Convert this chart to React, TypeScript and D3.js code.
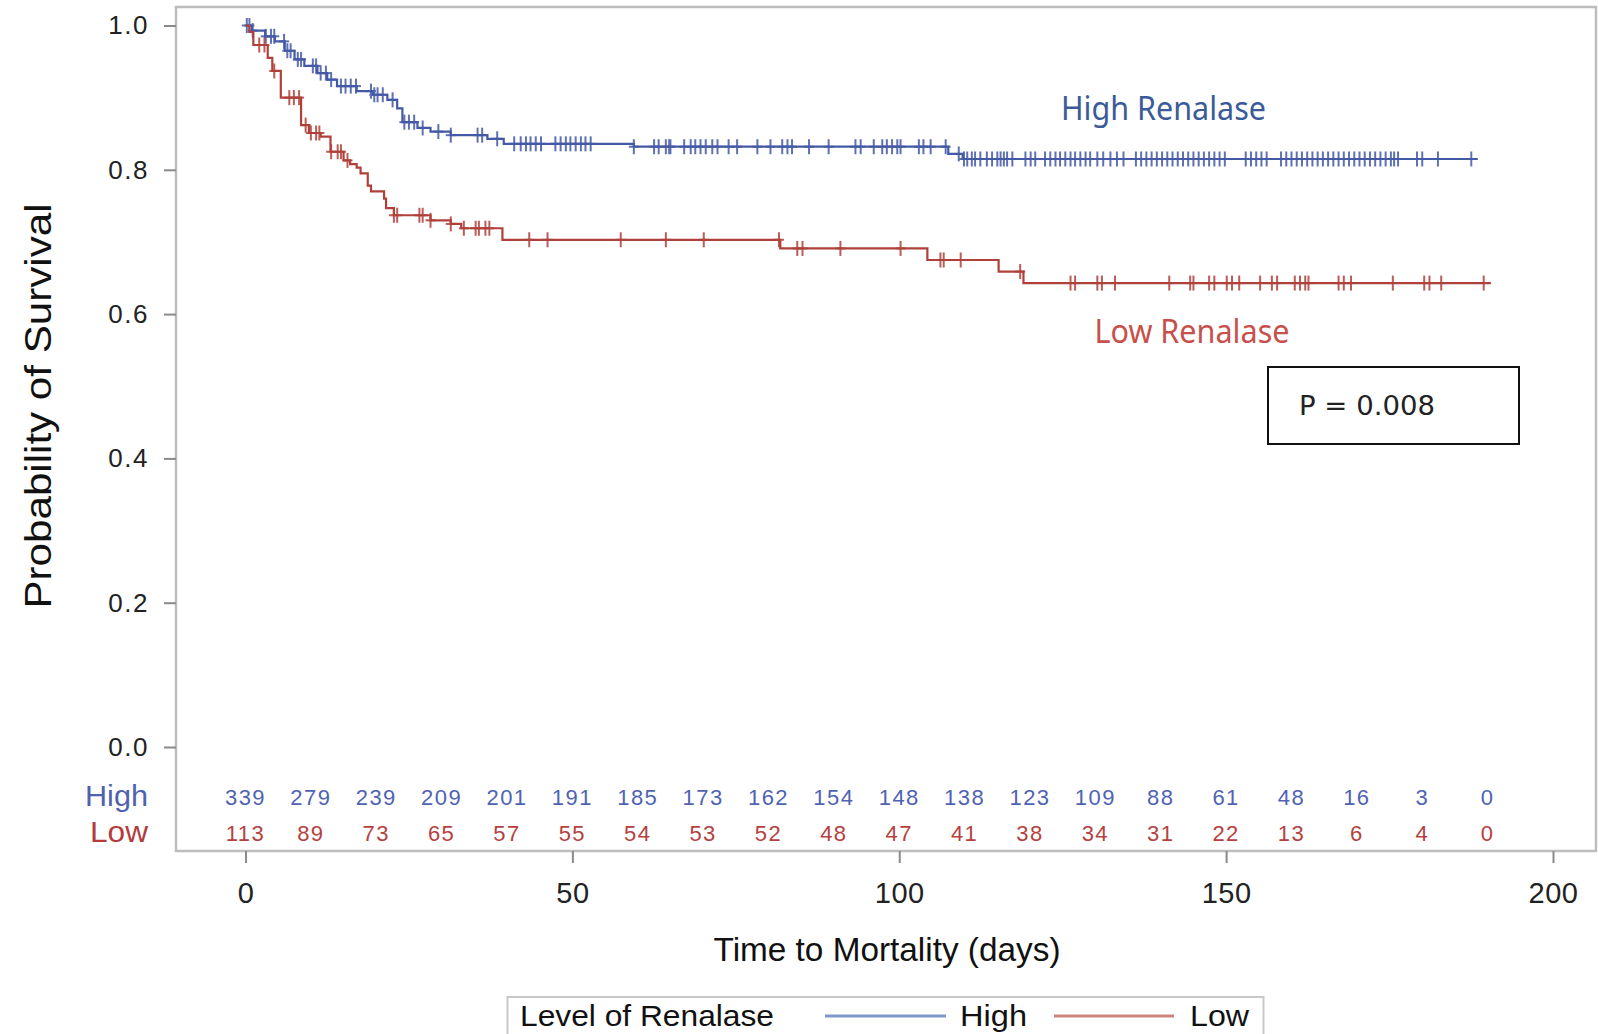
import React, { useEffect, useRef } from 'react';
import * as d3 from 'd3';

// Kaplan-Meier step points (time in days, survival after the drop)
const highTimes = [0, 1, 3, 4.5, 6, 7.5, 9, 11, 12.5, 14, 17, 19.5, 21.7, 23.2, 24, 26.3, 28.3, 31.4, 37, 39.5, 59.4, 107.5, 109.7];
const highSurv = [1.0, 0.993, 0.985, 0.978, 0.965, 0.953, 0.944, 0.934, 0.925, 0.916, 0.909, 0.904, 0.897, 0.885, 0.866, 0.858, 0.853, 0.848, 0.843, 0.836, 0.832, 0.822, 0.815];
const highEnd = 188.5;

const lowTimes = [0, 0.6, 1.2, 3.4, 4.1, 5.4, 8.5, 9.7, 11.5, 13, 15, 16, 17, 17.6, 18.7, 19.2, 21.2, 21.5, 22.7, 28.3, 31.4, 33, 39.3, 81.8, 104.3, 115.2, 119];
const lowSurv = [1.0, 0.991, 0.973, 0.955, 0.937, 0.9, 0.862, 0.851, 0.846, 0.825, 0.813, 0.808, 0.803, 0.795, 0.778, 0.77, 0.76, 0.747, 0.737, 0.73, 0.725, 0.719, 0.703, 0.691, 0.675, 0.659, 0.643];
const lowEnd = 190.5;

// censored observations
const highCensor = [0.2, 0.6, 1.1, 3.1, 3.9, 4.4, 5.9, 6.4, 6.9, 8.0, 8.5, 10.3, 10.8, 11.5, 12.3, 13.1, 14.6, 15.3, 16.1, 16.9, 19.2, 19.7, 20.2, 21.0, 22.5, 24.3, 25.0, 25.8, 27.1, 29.5, 31.4, 35.5, 36.2, 38.5, 41.1, 42.1, 42.9, 43.6, 44.4, 45.2, 47.4, 48.2, 49.0, 49.7, 50.5, 51.3, 52.0, 52.8, 59.4, 62.5, 63.2, 64.3, 64.8, 65.0, 67.1, 68.1, 68.8, 69.6, 70.4, 71.4, 72.2, 73.9, 75.2, 78.3, 80.3, 82.1, 82.9, 83.6, 86.2, 89.2, 93.3, 94.1, 96.1, 97.4, 98.1, 98.9, 99.7, 100.2, 103.0, 103.7, 104.8, 107.1, 109.1, 109.9, 110.4, 111.1, 111.6, 112.4, 113.4, 114.2, 115.0, 115.5, 116.0, 116.5, 117.3, 119.3, 120.1, 120.8, 122.3, 123.1, 123.9, 124.6, 125.4, 126.2, 126.9, 127.7, 128.5, 129.2, 130.3, 131.2, 132.3, 133.3, 134.3, 136.2, 137.0, 137.8, 138.6, 139.4, 140.2, 141.0, 141.8, 142.6, 143.4, 144.2, 145.0, 145.8, 146.6, 147.4, 148.2, 149.0, 149.8, 153.0, 153.8, 154.6, 155.4, 156.2, 158.4, 159.2, 160.0, 160.8, 161.6, 162.4, 163.2, 164.0, 164.8, 165.6, 166.4, 167.2, 168.0, 168.8, 169.6, 170.4, 171.2, 172.0, 172.8, 173.6, 174.4, 175.2, 175.7, 176.3, 179.2, 180.0, 182.4, 187.5];
const lowCensor = [2.1, 2.9, 4.4, 6.7, 7.4, 8.2, 9.2, 10.0, 10.8, 11.3, 13.1, 14.1, 14.6, 15.6, 22.7, 23.2, 26.6, 27.1, 28.3, 31.4, 33.4, 35.2, 35.7, 36.7, 37.3, 43.4, 46.2, 57.4, 64.3, 70.1, 81.6, 84.4, 85.2, 91.0, 100.2, 106.3, 106.8, 109.4, 118.5, 126.2, 126.9, 130.3, 131.0, 133.0, 141.3, 144.5, 145.0, 147.4, 148.2, 150.1, 150.9, 152.0, 155.2, 157.0, 157.8, 160.5, 161.3, 162.1, 162.6, 167.2, 168.0, 169.1, 175.5, 180.3, 181.1, 182.9, 189.4];

// number at risk table
const riskTimes = [0, 10, 20, 30, 40, 50, 60, 70, 80, 90, 100, 110, 120, 130, 140, 150, 160, 170, 180, 190];
const riskHigh = [339, 279, 239, 209, 201, 191, 185, 173, 162, 154, 148, 138, 123, 109, 88, 61, 48, 16, 3, 0];
const riskLow = [113, 89, 73, 65, 57, 55, 54, 53, 52, 48, 47, 41, 38, 34, 31, 22, 13, 6, 4, 0];

const xTicks = [0, 50, 100, 150, 200];
const yTicks = [0, 0.2, 0.4, 0.6, 0.8, 1.0];

const W = 1598;
const H = 1034;
const FONT = '"Liberation Sans", Arial, sans-serif';

const App = () => {
  const svgRef = useRef(null);

  useEffect(() => {
    const svg = d3.select(svgRef.current);
    svg.selectAll('*').remove();

    const frame = { left: 176, top: 7, right: 1596, bottom: 851 };
    const x = d3.scaleLinear().domain([0, 200]).range([245.5, 1553]);
    const y = d3.scaleLinear().domain([0, 1]).range([747, 25.5]);

    svg.append('rect')
      .attr('width', W).attr('height', H).attr('fill', '#fff');

    svg.append('rect')
      .attr('x', frame.left).attr('y', frame.top)
      .attr('width', frame.right - frame.left).attr('height', frame.bottom - frame.top)
      .attr('fill', 'none').attr('stroke', '#bdbdbd').attr('stroke-width', 2.5);

    // axes
    const yAxis = svg.append('g')
      .attr('transform', `translate(${frame.left},0)`)
      .call(d3.axisLeft(y).tickValues(yTicks).tickFormat(d3.format('.1f')).tickSize(12).tickPadding(15).tickSizeOuter(0));
    yAxis.select('.domain').remove();
    yAxis.selectAll('line').attr('stroke', '#8a8a8a').attr('stroke-width', 2);
    yAxis.selectAll('text')
      .attr('fill', '#222').style('font-family', FONT).style('font-size', '26px').style('letter-spacing', '1.5px');

    const xAxis = svg.append('g')
      .attr('transform', `translate(0,${frame.bottom})`)
      .call(d3.axisBottom(x).tickValues(xTicks).tickFormat(d3.format('d')).tickSize(12).tickPadding(19).tickSizeOuter(0));
    xAxis.select('.domain').remove();
    xAxis.selectAll('line').attr('stroke', '#8a8a8a').attr('stroke-width', 2);
    xAxis.selectAll('text')
      .attr('fill', '#222').style('font-family', FONT).style('font-size', '29px').style('letter-spacing', '0.5px');

    svg.append('text')
      .attr('transform', 'translate(51,406) rotate(-90)')
      .attr('text-anchor', 'middle')
      .attr('textLength', 405).attr('lengthAdjust', 'spacingAndGlyphs')
      .style('font-family', FONT).style('font-size', '36px').attr('fill', '#111')
      .text('Probability of Survival');

    svg.append('text')
      .attr('x', 887).attr('y', 961)
      .attr('text-anchor', 'middle')
      .attr('textLength', 347).attr('lengthAdjust', 'spacingAndGlyphs')
      .style('font-family', FONT).style('font-size', '33px').attr('fill', '#111')
      .text('Time to Mortality (days)');

    // survival curves
    const series = [
      { times: highTimes, surv: highSurv, end: highEnd, censor: highCensor, color: '#4459a6' },
      { times: lowTimes, surv: lowSurv, end: lowEnd, censor: lowCensor, color: '#b0403a' },
    ];

    const line = d3.line()
      .x(d => x(d[0]))
      .y(d => y(d[1]))
      .curve(d3.curveStepAfter);

    const bisect = d3.bisector(d => d).right;

    series.forEach(s => {
      const pts = s.times.map((t, i) => [t, s.surv[i]]);
      pts.push([s.end, s.surv[s.surv.length - 1]]);

      svg.append('path')
        .attr('d', line(pts))
        .attr('fill', 'none')
        .attr('stroke', s.color)
        .attr('stroke-width', 2.2);

      const marks = svg.append('g').attr('stroke', s.color).attr('stroke-width', 2).attr('opacity', 0.85);
      s.censor.forEach(t => {
        const idx = Math.max(0, bisect(s.times, t) - 1);
        const cx = x(t);
        const cy = y(s.surv[idx]);
        marks.append('line').attr('x1', cx).attr('x2', cx).attr('y1', cy - 7.5).attr('y2', cy + 7.5);
        marks.append('line').attr('x1', cx - 5).attr('x2', cx + 5).attr('y1', cy).attr('y2', cy);
      });
    });

    // annotations
    svg.append('text')
      .attr('x', 1061).attr('y', 120)
      .attr('textLength', 205).attr('lengthAdjust', 'spacingAndGlyphs')
      .style('font-family', '"Noto Sans", sans-serif').style('font-size', '33px')
      .attr('fill', '#3b5b98')
      .text('High Renalase');

    svg.append('text')
      .attr('x', 1094.5).attr('y', 343)
      .attr('textLength', 195).attr('lengthAdjust', 'spacingAndGlyphs')
      .style('font-family', '"Noto Sans", sans-serif').style('font-size', '33px')
      .attr('fill', '#c8504c')
      .text('Low Renalase');

    svg.append('rect')
      .attr('x', 1268).attr('y', 367).attr('width', 251).attr('height', 77)
      .attr('fill', '#fff').attr('stroke', '#111').attr('stroke-width', 2);
    svg.append('text')
      .attr('x', 1299).attr('y', 415)
      .attr('textLength', 136).attr('lengthAdjust', 'spacingAndGlyphs')
      .style('font-family', '"DejaVu Sans", sans-serif').style('font-size', '26px')
      .attr('fill', '#222')
      .text('P = 0.008');

    // at-risk table
    const risk = [
      { label: 'High', values: riskHigh, color: '#5063b3', labelColor: '#4f62b0', yBase: 806, lw: 63 },
      { label: 'Low', values: riskLow, color: '#b5413f', labelColor: '#b23c3c', yBase: 842, lw: 58 },
    ];
    risk.forEach(r => {
      svg.append('text')
        .attr('x', 148).attr('y', r.yBase)
        .attr('text-anchor', 'end')
        .attr('textLength', r.lw).attr('lengthAdjust', 'spacingAndGlyphs')
        .style('font-family', FONT).style('font-size', '29px')
        .attr('fill', r.labelColor)
        .text(r.label);

      svg.append('g').selectAll('text')
        .data(r.values)
        .enter().append('text')
        .attr('x', (d, i) => x(riskTimes[i]))
        .attr('y', r.yBase - 1)
        .attr('text-anchor', 'middle')
        .style('font-family', FONT).style('font-size', '22px').style('letter-spacing', '1.5px')
        .attr('fill', r.color)
        .text(d => d);
    });

    // legend (box runs off the bottom edge, as in the source)
    const lg = svg.append('g');
    lg.append('rect')
      .attr('x', 507.5).attr('y', 997).attr('width', 756).attr('height', 60)
      .attr('fill', '#fff').attr('stroke', '#c8c8c8').attr('stroke-width', 2);
    lg.append('text')
      .attr('x', 520).attr('y', 1026)
      .attr('textLength', 254).attr('lengthAdjust', 'spacingAndGlyphs')
      .style('font-family', FONT).style('font-size', '30px').attr('fill', '#111')
      .text('Level of Renalase');
    const legendItems = [
      { label: 'High', color: '#7f97c9', x1: 825, x2: 946, tx: 960, tw: 67 },
      { label: 'Low', color: '#cf8379', x1: 1054, x2: 1174, tx: 1190, tw: 59 },
    ];
    legendItems.forEach(it => {
      lg.append('line')
        .attr('x1', it.x1).attr('x2', it.x2).attr('y1', 1016).attr('y2', 1016)
        .attr('stroke', it.color).attr('stroke-width', 3);
      lg.append('text')
        .attr('x', it.tx).attr('y', 1026)
        .attr('textLength', it.tw).attr('lengthAdjust', 'spacingAndGlyphs')
        .style('font-family', FONT).style('font-size', '30px').attr('fill', '#111')
        .text(it.label);
    });
  }, []);

  return (
    <svg
      ref={svgRef}
      width={W}
      height={H}
      style={{ position: 'absolute', left: 0, top: 0, display: 'block' }}
    />
  );
};

export default App;
